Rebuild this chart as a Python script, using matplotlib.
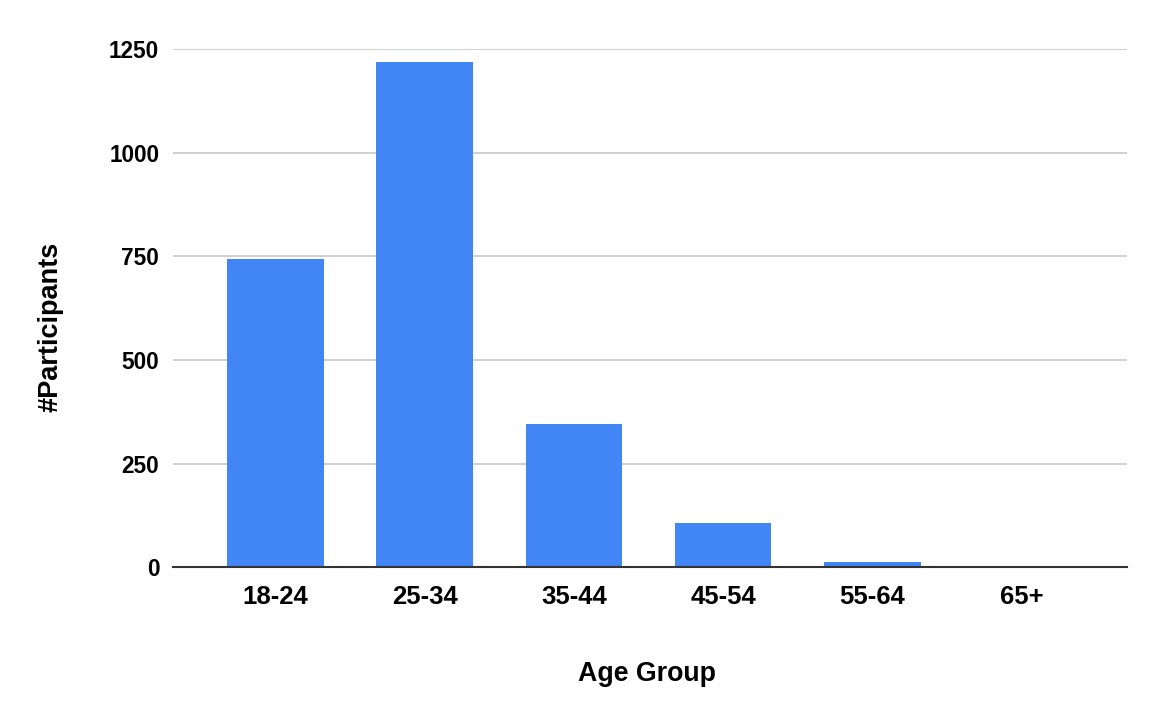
import matplotlib
matplotlib.use("Agg")
import matplotlib.pyplot as plt

age_groups = ["18-24", "25-34", "35-44", "45-54", "55-64", "65+"]
participants = [744, 1219, 345, 106, 14, 2]
y_ticks = [0, 250, 500, 750, 1000, 1250]

plt.rcParams['font.family'] = ['Liberation Sans', 'DejaVu Sans']
plt.rcParams['font.weight'] = 'bold'

fig = plt.figure(figsize=(11.63, 7.19), dpi=100)
ax = fig.add_axes([0.1488, 0.2108, 0.8202, 0.7210])

x = list(range(len(age_groups)))
ax.bar(x, participants, width=0.646, color="#4285F4", zorder=3)

ax.set_xlim(-0.685, 5.705)
ax.set_ylim(0, 1250)
ax.set_yticks(y_ticks)
ax.set_xticks(x)
ax.set_xticklabels(age_groups)

ax.grid(axis='y', color='#cccccc', linewidth=1.3, zorder=0)
for s in ['top', 'right', 'left']:
    ax.spines[s].set_visible(False)
ax.spines['bottom'].set_color('#333333')
ax.spines['bottom'].set_linewidth(1.5)
ax.spines['bottom'].set_zorder(4)

ax.tick_params(axis='y', length=0, pad=10, labelsize=16.3)
ax.tick_params(axis='x', length=0, pad=13, labelsize=18.5)
for lab in ax.get_xticklabels() + ax.get_yticklabels():
    lab.set_fontweight('bold')

ax.set_xlabel("Age Group", fontsize=19.3, fontweight='bold')
ax.set_ylabel("#Participants", fontsize=19.5, fontweight='bold')
ax.xaxis.set_label_coords(0.497, -0.181)
ax.yaxis.set_label_coords(-0.115, 0.464)

fig.savefig("out.png", dpi=100)
